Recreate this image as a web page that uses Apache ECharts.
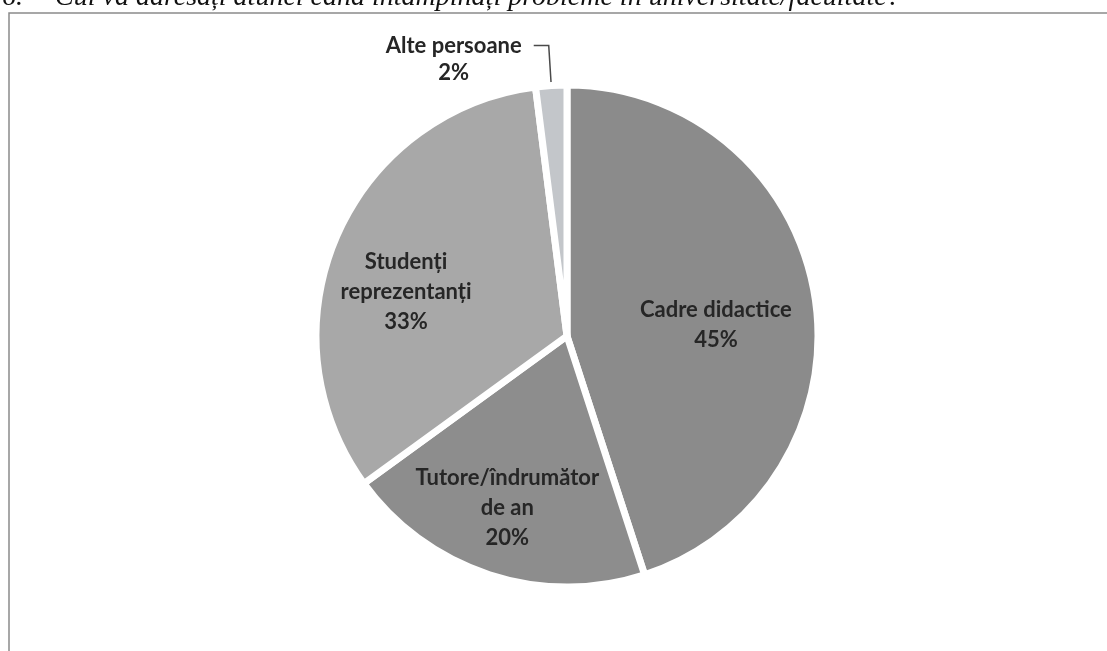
<!DOCTYPE html>
<html>
<head>
<meta charset="utf-8">
<script src="https://cdn.jsdelivr.net/npm/echarts@6/dist/echarts.min.js"></script>
<style>
  html, body { margin: 0; padding: 0; background: #fff; }
  #chart { width: 1107px; height: 651px; }
</style>
</head>
<body>
<div id="chart"></div>
<script>
// ---- data ----
const categories = ['Cadre didactice', 'Tutore/îndrumător de an', 'Studenți reprezentanți', 'Alte persoane'];
const labelText = ['Cadre didactice', 'Tutore/îndrumător\nde an', 'Studenți\nreprezentanți', 'Alte persoane'];
const values = [45, 20, 33, 2];
const titleNumber = '6.';
const titleText = 'Cui vă adresați atunci când întâmpinați probleme în universitate/facultate?';

// ---- styling ----
const colors = ['#8b8b8b', '#8d8d8d', '#a8a8a8', '#c3c6ca'];
const insideLabelShift = [[22, 9], [-20, 50], [-43, 7]];
const labelFont = 'Lato';
const labelSize = 22;

const chart = echarts.init(document.getElementById('chart'), null, { renderer: 'canvas' });

const data = categories.map((name, i) => {
  const item = {
    name: name,
    value: values[i],
    itemStyle: { color: colors[i] }
  };
  if (i === 3) {
    item.label = {
      position: 'outside',
      formatter: '{s| }\n{t|' + labelText[i] + '}\n{t|{c}%}',
      rich: {
        s: { fontSize: labelSize, lineHeight: 27, fontFamily: labelFont },
        t: { fontSize: labelSize, lineHeight: 27, width: 150, align: 'center',
             fontFamily: labelFont, fontWeight: 'bold', color: '#262626' }
      }
    };
    item.labelLine = { show: true, length: 40, length2: 15,
      lineStyle: { color: '#4a4a4a', width: 1.5 } };
  } else {
    item.label = {
      position: 'inside',
      formatter: labelText[i] + '\n{c}%'
    };
    item.labelLine = { show: false };
  }
  return item;
});

chart.setOption({
  backgroundColor: '#ffffff',
  animation: false,
  graphic: [
    { type: 'rect', silent: true,
      shape: { x: 9, y: 13, width: 1200, height: 800 },
      style: { fill: 'none', stroke: '#8a8a8a', lineWidth: 1.5 } },
    { type: 'text', silent: true, x: 2, y: 12,
      style: { text: titleNumber, font: 'italic 28px "Liberation Serif"', fill: '#111', verticalAlign: 'bottom', align: 'left' } },
    { type: 'text', silent: true, x: 55, y: 12,
      style: { text: titleText, font: 'italic 28px "Liberation Serif"', fill: '#111', verticalAlign: 'bottom', align: 'left' } }
  ],
  series: [{
    type: 'pie',
    center: [567, 336],
    radius: [0, 251],
    startAngle: 90,
    clockwise: true,
    avoidLabelOverlap: false,
    itemStyle: { borderColor: '#ffffff', borderWidth: 7 },
    label: {
      show: true,
      fontFamily: labelFont,
      fontSize: labelSize,
      fontWeight: 'bold',
      lineHeight: 30,
      color: '#262626',
      align: 'center'
    },
    labelLayout: function (p) {
      const s = insideLabelShift[p.dataIndex];
      if (!s) return {};
      return { dx: s[0], dy: s[1] };
    },
    emphasis: { disabled: true },
    data: data
  }]
});
</script>
</body>
</html>
